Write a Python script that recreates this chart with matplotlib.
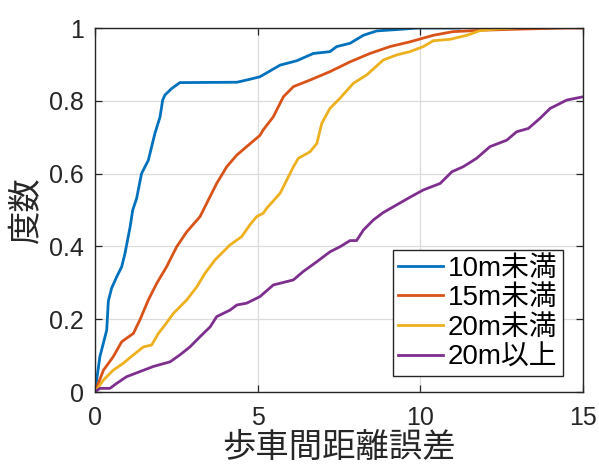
import matplotlib as mpl
mpl.use('Agg')
import matplotlib.pyplot as plt

plt.rcParams['font.family'] = ['Liberation Sans', 'Noto Sans CJK JP', 'DejaVu Sans']

# 10m未満
x_10 = [0, 0.15, 0.36, 0.41, 0.51, 0.67, 0.82, 0.92, 1.08, 1.16, 1.28, 1.43, 1.64, 1.84, 2.0, 2.08, 2.15,
        2.36, 2.61, 4.36, 4.66, 5.07, 5.69, 6.2, 6.71, 7.22, 7.43, 7.84, 8.25, 8.66, 9.48, 9.9, 11.2]
y_10 = [0, 0.097, 0.17, 0.25, 0.285, 0.317, 0.344, 0.38, 0.454, 0.5, 0.532, 0.6, 0.637, 0.71, 0.756, 0.802, 0.816,
        0.834, 0.85, 0.851, 0.857, 0.866, 0.898, 0.91, 0.93, 0.935, 0.949, 0.958, 0.98, 0.992, 0.997, 1.0, 1.0]

# 15m未満
x_15 = [0, 0.26, 0.56, 0.82, 1.18, 1.38, 1.64, 1.9, 2.2, 2.51, 2.82, 3.23, 3.38, 3.74, 4.05, 4.36, 4.66,
        5.07, 5.17, 5.48, 5.79, 6.1, 6.61, 7.22, 7.84, 8.45, 9.07, 9.68, 10.4, 11.0, 11.94, 13.07, 14.5, 15]
y_15 = [0, 0.06, 0.097, 0.138, 0.161, 0.198, 0.253, 0.299, 0.344, 0.399, 0.44, 0.482, 0.509, 0.573, 0.619, 0.651, 0.674,
        0.705, 0.72, 0.756, 0.811, 0.839, 0.857, 0.88, 0.907, 0.93, 0.949, 0.962, 0.98, 0.99, 0.994, 0.997, 1.0, 1.0]

# 20m未満
x_20 = [0, 0.26, 0.56, 0.87, 1.18, 1.49, 1.74, 1.95, 2.15, 2.41, 2.82, 3.13, 3.38, 3.69, 4.15, 4.51, 4.76,
        4.97, 5.17, 5.28, 5.69, 6.1, 6.25, 6.61, 6.82, 6.97, 7.22, 7.53, 7.94, 8.35, 8.86, 9.27, 9.68,
        10.09, 10.4, 10.92, 11.43, 11.84, 12.3, 12.9]
y_20 = [0, 0.033, 0.06, 0.079, 0.102, 0.124, 0.129, 0.161, 0.184, 0.216, 0.253, 0.289, 0.326, 0.363, 0.404, 0.427, 0.459,
        0.482, 0.491, 0.505, 0.546, 0.619, 0.642, 0.66, 0.683, 0.738, 0.779, 0.807, 0.848, 0.871, 0.912, 0.926, 0.935,
        0.949, 0.965, 0.969, 0.98, 0.993, 0.997, 1.0]

# 20m以上
x_20up = [0, 0.15, 0.46, 0.67, 0.97, 1.38, 1.79, 2.31, 2.61, 2.92, 3.23, 3.54, 3.74, 4.15, 4.36, 4.66, 5.07,
          5.48, 6.1, 6.4, 6.82, 7.22, 7.53, 7.84, 8.04, 8.25, 8.56, 8.86, 9.27, 9.68, 10.09, 10.61, 10.97,
          11.32, 11.73, 12.14, 12.66, 12.96, 13.32, 13.68, 13.99, 14.5, 15]
y_20up = [0, 0.01, 0.01, 0.024, 0.042, 0.056, 0.07, 0.083, 0.102, 0.124, 0.152, 0.179, 0.207, 0.225, 0.239, 0.244, 0.262,
          0.294, 0.308, 0.331, 0.358, 0.385, 0.399, 0.416, 0.416, 0.445, 0.473, 0.493, 0.514, 0.535, 0.555, 0.573, 0.605,
          0.619, 0.642, 0.674, 0.692, 0.715, 0.724, 0.752, 0.779, 0.802, 0.811]

labels = ['10m未満', '15m未満', '20m未満', '20m以上']
colors = ['#0072BD', '#D95319', '#EDB120', '#7E2F8E']

fig = plt.figure(figsize=(5.99, 4.65), dpi=100)
ax = fig.add_axes([95/599, 1-392/465, 488/599, 364/465])

for xs, ys, lab, c in zip([x_10, x_15, x_20, x_20up], [y_10, y_15, y_20, y_20up], labels, colors):
    ax.plot(xs, ys, color=c, linewidth=2.0, label=lab)

ax.set_xlim(0, 15)
ax.set_ylim(0, 1)
ax.set_xticks([0, 5, 10, 15])
ax.set_yticks([0, 0.2, 0.4, 0.6, 0.8, 1])
ax.set_yticklabels(['0', '0.2', '0.4', '0.6', '0.8', '1'])
ax.grid(True, color='#dcdcdc', linewidth=0.9)
ax.set_axisbelow(True)
ax.tick_params(direction='in', top=True, right=True, length=5, width=0.9,
               labelsize=18, colors='#262626')
ax.tick_params(axis='x', pad=10)
ax.tick_params(axis='y', pad=8)
for s in ax.spines.values():
    s.set_color('#262626')
    s.set_linewidth(1.0)

ax.set_xlabel('歩車間距離誤差', fontsize=24, color='#262626', labelpad=2)
ax.set_ylabel('度数', fontsize=24, color='#262626', labelpad=4)

leg = ax.legend(loc='lower right', bbox_to_anchor=(0.959, 0.044), borderaxespad=0,
                fontsize=20, fancybox=False, edgecolor='#262626', framealpha=1,
                handlelength=1.6, handletextpad=0.18, labelspacing=0.13,
                borderpad=0.2)
leg.get_frame().set_linewidth(1.0)

plt.savefig('out.png', dpi=100)
